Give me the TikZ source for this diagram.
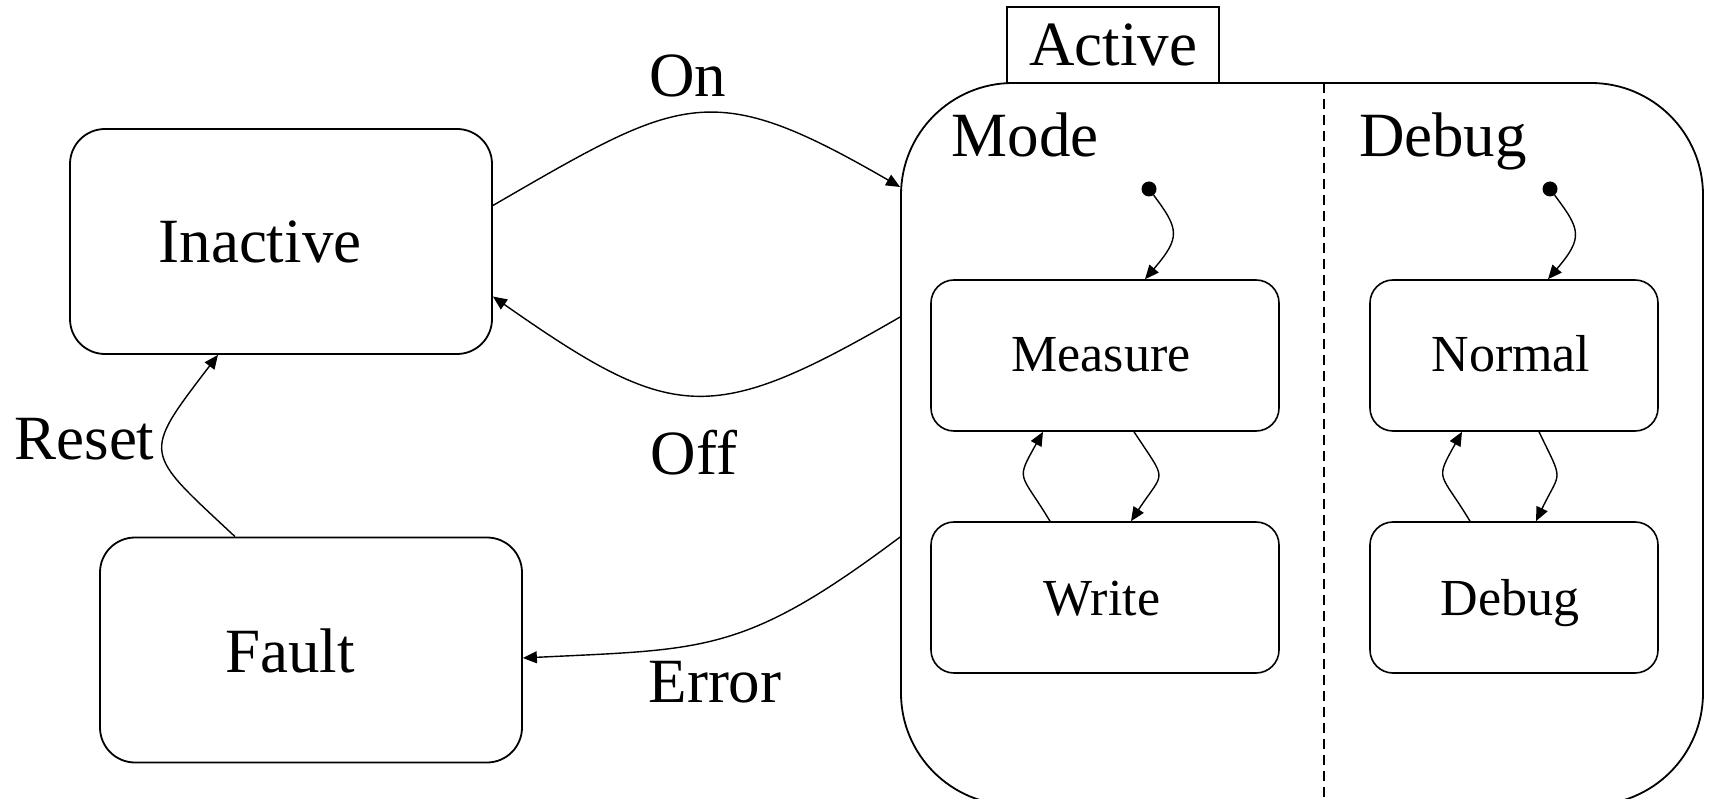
\documentclass[tikz,border=0pt]{standalone}
\usepackage{fontspec}
\setmainfont{Liberation Serif}
\usetikzlibrary{calc,arrows.meta}
\begin{document}
\begin{tikzpicture}[x=1pt,y=-1pt,
  box/.style={draw,line width=1.8pt,rounded corners=35pt,minimum width=422pt,minimum height=225pt,inner sep=0pt},
  sbox/.style={draw,line width=1.6pt,rounded corners=23pt,minimum height=151pt,inner sep=0pt},
  big/.style={font=\fontsize{63}{70}\selectfont,anchor=base,inner sep=0pt},
  small/.style={font=\fontsize{52}{58}\selectfont,anchor=base,inner sep=0pt},
  arr/.style={line width=1.4pt,-{Triangle[length=14pt,width=12pt]}},
  dotnode/.style={circle,fill=black,inner sep=0pt,minimum size=15pt},
  ]
\useasboundingbox (0,0) rectangle (1709,799);

% outer states
\node[box] (inactive) at (281,241.5) {};
\node[box] (fault) at (311,650) {};
\node[draw,line width=1.8pt,rounded corners=112pt,minimum width=802pt,minimum height=722pt,inner sep=0pt] (active) at (1302,444) {};
\node[draw,line width=1.6pt,minimum width=212pt,minimum height=76pt,inner sep=0pt] (tab) at (1113,45) {};

% divider
\coordinate (divtop) at (1324,83);
\coordinate (divbot) at (1324,799);
\draw[line width=1.6pt,dash pattern=on 10pt off 6pt] (divtop) -- (divbot);

% inner states
\node[sbox,minimum width=348pt] (measure) at (1105,355.5) {};
\node[sbox,minimum width=348pt] (write) at (1105,597.5) {};
\node[sbox,minimum width=288pt] (normal) at (1514,355.5) {};
\node[sbox,minimum width=288pt] (debugbox) at (1514,597.5) {};

% initial dots
\node[dotnode] (init1) at (1149,189) {};
\node[dotnode] (init2) at (1550,189) {};

% texts
\node[big] (inactivetxt) at (260,263) {Inactive};
\node[big] (faulttxt) at (290,672) {Fault};
\node[big] (activetxt) at (1113,66) {Active};
\node[big] (modetxt) at (1025,157) {Mode};
\node[big] (debugtxt) at (1443,157) {Debug};
\node[big] (ontxt) at (688,97) {On};
\node[big] (offtxt) at (694,475) {Off};
\node[big] (resettxt) at (84.5,460) {Reset};
\node[big] (errortxt) at (715,702) {Error};
\node[small] (measuretxt) at (1101,372) {Measure};
\node[small] (writetxt) at (1102,615) {Write};
\node[small] (normaltxt) at (1511,372) {Normal};
\node[small] (debuginnertxt) at (1510,615) {Debug};

% outer transitions
\draw[arr] ($(inactive.east)+(0,-36)$) .. controls +(190,-110) and +(-190,-110) .. ($(active.west)+(0,-257)$);
\draw[arr] ($(active.west)+(0,-127)$) .. controls +(-190,110) and +(180,126) .. ($(inactive.east)+(0,55)$);
\draw[arr] ($(active.west)+(0,93)$) .. controls +(-156,117) and +(183,-9) .. ($(fault.east)+(0,8)$);
\draw[arr] ($(fault.north)+(-76,0)$) .. controls +(-92,-86) and +(-77,101) .. ($(inactive.south)+(-63,0)$);

% inner transitions
\draw[arr] (init1) .. controls +(30,40) and +(36,-42) .. ($(measure.north)+(40,0)$);
\draw[arr] (init2) .. controls +(30,40) and +(36,-42) .. ($(normal.north)+(34,0)$);
\draw[arr] ($(measure.south)+(29,0)$) .. controls +(34,52) and +(34,-52) .. ($(write.north)+(26,0)$);
\draw[arr] ($(write.north)+(-55,0)$) .. controls +(-30,-50) and +(-28,50) .. ($(measure.south)+(-62,0)$);
\draw[arr] ($(normal.south)+(25,0)$) .. controls +(25,52) and +(25,-52) .. ($(debugbox.north)+(22,0)$);
\draw[arr] ($(debugbox.north)+(-44,0)$) .. controls +(-30,-50) and +(-28,50) .. ($(normal.south)+(-52,0)$);
\end{tikzpicture}
\end{document}
